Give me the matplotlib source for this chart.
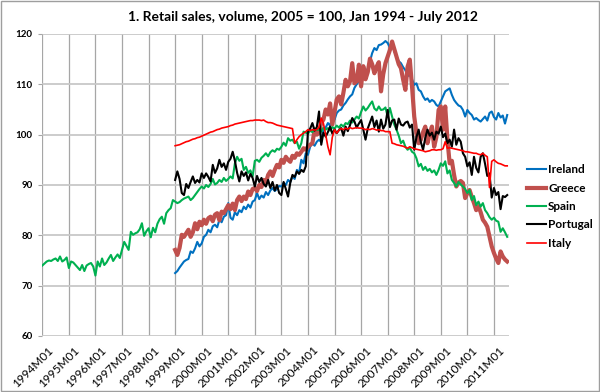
import numpy as np
import matplotlib
matplotlib.use("Agg")
import matplotlib.pyplot as plt
from matplotlib.patches import Rectangle
from matplotlib.transforms import ScaledTranslation

plt.rcParams['font.family'] = ['Lato', 'DejaVu Sans']

title = "1. Retail sales, volume, 2005 = 100, Jan 1994 - July 2012"
tick_labels = ["1994M01", "1995M01", "1996M01", "1997M01", "1998M01", "1999M01",
               "2000M01", "2001M01", "2002M01", "2003M01", "2004M01", "2005M01",
               "2006M01", "2007M01", "2008M01", "2009M01", "2010M01", "2011M01"]
y_ticks = [60, 70, 80, 90, 100, 110, 120]

# Monthly values, Spain from 1994M01, the others from 1999M01
spain = [74.0, 74.4, 74.8, 75.0, 74.9, 75.2, 75.4, 74.9, 75.8, 74.8, 75.1, 75.6,
         73.5, 74.8, 74.6, 74.1, 73.6, 73.1, 74.1, 72.9, 74.0, 74.3, 74.5, 73.8,
         72.0, 74.8, 73.8, 75.4, 74.1, 74.6, 75.4, 76.1, 74.9, 75.6, 76.2, 75.5,
         77.1, 78.7, 77.9, 77.1, 80.7, 80.1, 80.4, 80.6, 81.2, 82.4, 79.9, 80.8,
         81.4, 79.6, 81.5, 80.6, 82.3, 83.2, 83.7, 82.3, 84.4, 85.0, 85.4, 87.0,
         86.7, 86.4, 86.6, 87.0, 87.3, 87.5, 87.7, 87.0, 87.4, 88.0, 88.6, 89.2,
         89.7, 89.3, 90.0, 89.6, 90.2, 91.2, 90.1, 90.4, 91.0, 90.6, 91.4, 90.8,
         91.2, 91.7, 91.3, 94.3, 95.6, 94.8, 95.2, 93.0, 93.6, 92.4, 92.9, 91.7,
         94.8, 95.0, 94.6, 95.4, 95.8, 96.3, 95.7, 96.5, 96.9, 96.6, 97.2, 97.0,
         97.6, 98.4, 97.8, 99.3, 98.8, 99.0, 98.3, 98.6, 97.2, 98.3, 100.6, 100.4,
         100.2, 100.8, 100.5, 101.2, 100.9, 101.0, 100.6, 101.4, 101.0, 101.3, 100.8, 101.5,
         101.2, 101.8, 101.4, 102.0, 101.6, 102.3, 102.1, 102.8, 102.4, 103.0, 103.6, 103.2,
         104.5, 105.6, 104.8, 105.3, 106.0, 106.6, 105.2, 104.8, 105.6, 104.9, 105.0, 105.4,
         103.6, 105.3, 103.6, 102.0, 101.0, 99.8, 98.3, 98.8, 97.6, 97.0, 97.4, 96.6,
         96.3, 95.3, 93.7, 94.2, 93.0, 93.6, 92.8, 93.2, 92.5, 92.9, 92.0, 93.0,
         94.3, 93.8, 94.7, 92.3, 92.9, 91.0, 90.4, 89.7, 90.6, 90.1, 89.7, 89.2,
         88.4, 89.0, 87.0, 87.8, 86.0, 86.7, 85.7, 86.4, 85.0, 84.4, 83.6, 83.1,
         83.5, 82.9, 82.7, 80.7, 81.4, 80.6, 79.7]

ireland = [72.5, 72.9, 73.6, 74.2, 74.8, 75.1, 75.3, 76.8, 76.5, 77.4, 78.7, 77.8,
           78.4, 79.7, 80.1, 81.1, 80.6, 81.8, 82.1, 81.6, 83.1, 82.6, 83.7, 84.0,
           86.4, 83.5, 83.1, 84.6, 84.0, 85.0, 84.6, 85.7, 85.2, 86.1, 85.5, 86.7,
           87.0, 88.4, 87.2, 87.9, 87.5, 88.6, 88.0, 88.9, 89.4, 88.8, 89.2, 89.8,
           89.7, 90.4, 90.0, 91.0, 90.6, 91.7, 91.2, 93.0, 92.4, 95.0, 94.3, 96.3,
           96.0, 97.6, 98.3, 97.8, 98.6, 99.0, 98.5, 101.0, 101.4, 102.3, 101.8, 103.6,
           103.0, 104.3, 104.8, 105.0, 105.8, 106.3, 107.0, 107.6, 108.0, 109.3, 110.0, 110.6,
           111.6, 112.4, 113.0, 112.6, 114.5, 116.2, 117.2, 116.8, 117.8, 117.9, 118.2, 118.6,
           118.2, 117.3, 118.2, 116.5, 115.5, 114.6, 114.2, 113.4, 112.8, 111.6, 111.9, 111.0,
           109.9, 110.2, 108.9, 108.6, 107.6, 106.9, 107.2, 106.5, 106.9, 106.6, 105.9, 105.6,
           106.6, 107.6, 108.6, 108.9, 109.2, 107.9, 106.9, 106.3, 105.8, 105.6, 104.9, 103.6,
           104.9, 104.3, 103.9, 103.0, 103.3, 102.9, 102.6, 103.1, 103.6, 102.8, 104.3, 104.6,
           103.5, 103.0, 104.3, 103.4, 103.8, 102.2, 103.9]

greece = [77.1, 76.1, 77.5, 80.1, 79.7, 80.4, 81.1, 79.7, 80.6, 82.4, 81.2, 82.7,
          82.0, 83.1, 82.3, 83.4, 83.7, 82.8, 84.1, 84.4, 83.0, 84.7, 84.4, 85.2,
          86.0, 85.2, 86.3, 85.0, 87.0, 87.7, 86.8, 87.7, 87.2, 88.7, 88.0, 89.2,
          89.4, 88.8, 90.0, 89.6, 91.0, 90.4, 92.0, 92.7, 91.8, 93.0, 94.0, 93.5,
          95.0, 94.4, 95.6, 95.0, 94.6, 95.8, 95.4, 96.3, 96.0, 96.6, 97.3, 97.0,
          97.6, 98.0, 98.3, 101.0, 100.0, 100.4, 102.3, 103.0, 105.0, 104.0, 106.2, 102.0,
          104.5, 107.0, 107.6, 106.0, 108.3, 110.9, 109.6, 110.6, 114.2, 110.2, 110.6, 113.9,
          109.6, 113.6, 111.0, 112.4, 115.1, 114.0, 112.2, 113.5, 114.4, 108.6, 112.0, 114.2,
          115.5, 116.8, 118.5, 117.0, 115.5, 114.0, 113.2, 110.9, 108.9, 113.5, 114.9, 109.6,
          103.6, 100.3, 98.3, 99.0, 100.5, 101.6, 98.3, 100.2, 101.6, 97.6, 99.5, 104.9,
          105.6, 101.0, 105.6, 99.0, 94.3, 94.8, 92.0, 89.7, 90.5, 90.8, 90.4, 87.4,
          88.4, 89.0, 87.6, 86.4, 85.0, 85.8, 84.6, 83.1, 82.5, 81.7, 79.7, 77.8,
          76.5, 75.4, 74.5, 76.8, 75.8, 75.2, 74.8]

portugal = [91.0, 92.7, 91.2, 88.4, 88.0, 90.2, 89.4, 90.6, 91.7, 90.4, 91.0, 90.5,
            92.3, 91.4, 92.3, 91.6, 90.7, 94.0, 92.4, 93.3, 95.0, 93.6, 94.3, 93.0,
            94.6, 95.2, 96.6, 94.8, 92.4, 90.7, 92.7, 91.8, 92.5, 90.9, 92.2, 91.4,
            89.7, 91.8, 90.6, 91.4, 90.2, 89.7, 91.0, 89.4, 90.6, 88.9, 90.0, 88.4,
            88.0, 90.6, 89.2, 87.7, 90.4, 92.0, 91.6, 92.7, 92.2, 93.0, 92.6, 93.7,
            100.6, 101.2, 102.3, 100.8, 101.5, 104.6, 98.0, 100.4, 99.6, 100.5, 101.6, 100.2,
            101.0, 100.3, 100.9, 101.3, 99.8, 101.6, 100.7, 101.9, 103.3, 102.6, 101.4, 102.2,
            102.9, 101.0, 99.0, 101.2, 102.4, 103.6, 101.5, 102.8, 100.6, 103.0, 101.2, 102.0,
            104.9, 101.5, 102.8, 103.0, 101.0, 103.2, 102.0, 101.8, 102.4, 102.6, 101.4, 102.0,
            97.0, 99.5, 101.0, 98.5, 97.0, 99.4, 101.0, 99.8, 100.4, 99.0, 100.6, 100.2,
            101.6, 99.5, 100.2, 98.3, 99.0, 97.6, 101.0, 98.0, 99.3, 98.6, 96.3, 95.6,
            93.7, 94.5, 92.0, 95.6, 93.4, 92.5, 95.6, 96.3, 94.2, 91.8, 92.3, 87.5,
            89.4, 88.0, 88.6, 85.2, 87.8, 87.6, 88.0]

italy = [97.8, 97.9, 98.0, 98.2, 98.4, 98.6, 98.7, 98.9, 99.1, 99.2, 99.4, 99.5,
         99.7, 99.9, 100.1, 100.3, 100.5, 100.6, 100.8, 101.0, 101.1, 101.3, 101.4, 101.5,
         101.6, 101.8, 101.9, 102.1, 102.2, 102.3, 102.4, 102.5, 102.6, 102.7, 102.8, 102.8,
         102.9, 102.9, 102.9, 102.8, 102.9, 102.6, 102.4, 102.4, 102.3, 102.1, 101.9, 101.8,
         101.7, 101.6, 101.5, 101.4, 101.3, 101.2, 98.3, 99.0, 99.6, 100.0, 100.3, 100.6,
         101.0, 100.8, 101.0, 100.9, 101.0, 101.5, 103.3, 102.2, 100.0, 97.6, 96.0, 99.5,
         101.0, 100.3, 100.9, 101.2, 101.0, 101.3, 101.1, 101.4, 101.2, 101.3, 101.4, 101.3,
         101.3, 101.2, 101.0, 101.1, 101.0, 101.2, 101.1, 100.9, 101.0, 100.8, 100.8, 100.6,
         100.6, 100.6, 98.3, 98.2, 98.0, 97.9, 97.8, 97.7, 97.5, 97.3, 97.6, 97.4,
         97.2, 97.1, 97.0, 96.9, 96.8, 96.6, 96.7, 96.8, 97.0, 97.0, 96.9, 97.0,
         97.0, 97.2, 98.6, 97.3, 97.4, 97.3, 97.2, 97.1, 97.0, 96.9, 96.8, 96.6,
         96.6, 96.5, 96.4, 96.3, 96.3, 96.1, 96.0, 96.3, 95.9, 95.6, 89.5, 94.7,
         95.0, 94.6, 94.3, 94.2, 94.0, 93.8, 93.8]

series = [("Ireland", ireland, "#0070C0", 1.5),
          ("Greece", greece, "#C0504D", 3.0),
          ("Spain", spain, "#00B050", 1.5),
          ("Portugal", portugal, "#000000", 1.5),
          ("Italy", italy, "#FF0000", 1.2)]

n_total = len(spain)

fig = plt.figure(figsize=(6.0, 3.92), dpi=100)
ax = fig.add_axes([0.0705, 0.1429, 0.7778, 0.7704])

for name, vals, col, lw in series:
    x = np.arange(n_total - len(vals), n_total)
    ax.plot(x, vals, color=col, lw=lw, label=name, solid_joinstyle='round')

ax.set_xlim(0, n_total - 0.2)
ax.set_ylim(60, 120)
ax.set_yticks(y_ticks)
ax.set_yticklabels([str(v) for v in y_ticks], fontsize=7, fontweight='bold')
xt = np.arange(len(tick_labels)) * 12
ax.set_xticks(xt)
ax.set_xticklabels(tick_labels, rotation=45, ha='right', va='top',
                   rotation_mode='anchor', fontsize=8.5)
ax.tick_params(axis='x', length=0, pad=6)
shift = ScaledTranslation(5 / 100, 0, fig.dpi_scale_trans)
for lab in ax.get_xticklabels():
    lab.set_transform(lab.get_transform() + shift)
ax.tick_params(axis='y', length=3, color='#A6A6A6', pad=4)
for s in ax.spines.values():
    s.set_visible(False)
ax.grid(axis='y', color='#C8C8C8', lw=1.3)
ax.grid(axis='x', color='#A6A6A6', lw=0.9)
ax.set_axisbelow(True)

fig.text(0.505, 1 - 17 / 392, title, ha='center', va='center',
         fontsize=10, fontweight='bold')

leg = fig.legend(loc='center left', bbox_to_anchor=(0.878, 0.473),
                 frameon=False, fontsize=8.5, handlelength=1.65,
                 handletextpad=0.15, labelspacing=0.62, borderpad=0,
                 borderaxespad=0)
for t in leg.get_texts():
    t.set_fontweight('bold')

fig.patches.append(Rectangle((0.001, 0.002), 0.997, 0.995, transform=fig.transFigure,
                             fill=False, edgecolor='#9E9E9E', lw=1))

fig.savefig("out.png", dpi=100)
